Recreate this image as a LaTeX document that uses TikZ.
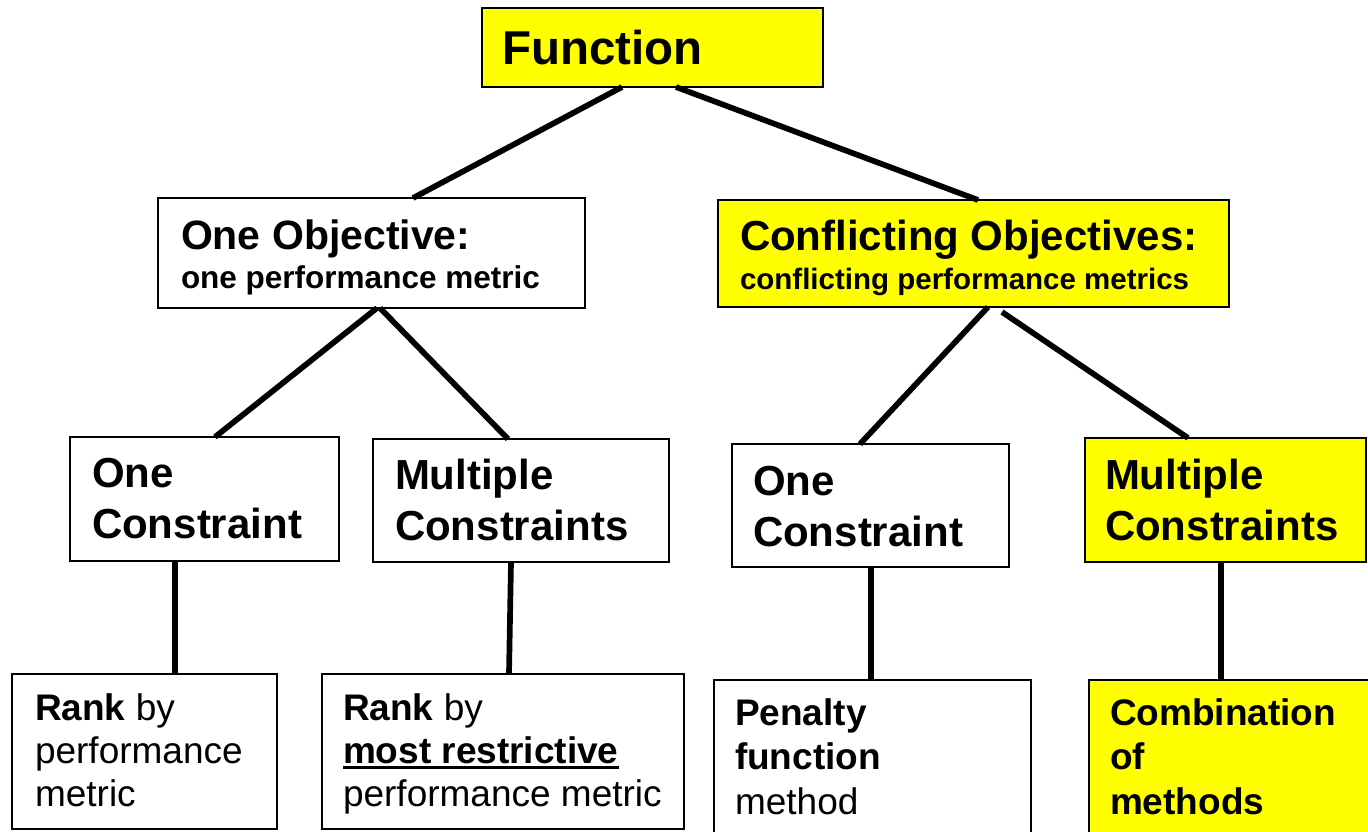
\documentclass[tikz,border=0pt]{standalone}
\usepackage{fontspec}
\setmainfont{Liberation Sans}
\definecolor{hiyellow}{RGB}{255,255,0}
\newsavebox\ulbox
\newcommand\thickul[1]{\sbox\ulbox{#1}\leavevmode\rlap{\rule[-6pt]{\wd\ulbox}{2.6pt}}\usebox\ulbox}
\newcommand\natsp{\spaceskip=0pt\relax\xspaceskip=0pt\relax}
\begin{document}
\begin{tikzpicture}[x=1pt,y=-1pt,
  tbox/.style={draw=black, line width=1.5pt, anchor=north west, inner ysep=0pt, outer sep=0pt, align=left},
  hl/.style={fill=hiyellow},
  fhead/.style={font=\fontsize{47.5pt}{54pt}\selectfont\bfseries},
  fobj/.style={font=\fontsize{41pt}{46pt}\selectfont\bfseries},
  fcon/.style={font=\fontsize{42pt}{51pt}\selectfont\bfseries},
  fleafa/.style={font=\fontsize{37pt}{43pt}\selectfont},
  fleafb/.style={font=\fontsize{37pt}{44.5pt}\selectfont},
  conn/.style={line width=5.7pt}]
\clip (0,0) rectangle (1368,831);
\fill[white] (0,0) rectangle (1368,831);

% level 1
\node[tbox, hl, fhead, inner xsep=20pt, text width=301pt, text height=56pt, text depth=23pt] (func) at (482,8)
  {\natsp Function};

% level 2
\node[tbox, fobj, inner xsep=23pt, text width=381pt, text height=51pt, text depth=59pt] (oneobj) at (158,198)
  {\natsp One Objective:\par{\fontsize{31.5pt}{39pt}\selectfont\natsp one performance metric\par}};
\node[tbox, hl, fobj, inner xsep=22pt, text width=467pt, text height=50pt, text depth=57pt] (conflict) at (718,200)
  {\natsp\fontsize{42pt}{46pt}\selectfont\natsp Conflicting Objectives:\par{\fontsize{29.5pt}{39.5pt}\selectfont\natsp conflicting performance metrics\par}};

% level 3
\node[tbox, fcon, inner xsep=22pt, text width=225pt, text height=50pt, text depth=74pt] (oc1) at (70,437)
  {\natsp One\\Constraint};
\node[tbox, fcon, inner xsep=22pt, text width=252pt, text height=50pt, text depth=73pt] (mc1) at (373,439)
  {\natsp Multiple\\Constraints};
\node[tbox, fcon, inner xsep=21pt, text width=235pt, text height=51pt, text depth=72pt] (oc2) at (732,444)
  {\natsp One\\Constraint};
\node[tbox, hl, fcon, inner xsep=20pt, text width=241pt, text height=51pt, text depth=73pt] (mc2) at (1085,438)
  {\natsp Multiple\\Constraints};

% level 4
\node[tbox, fleafa, inner xsep=23pt, text width=219pt, text height=46pt, text depth=109pt] (rank1) at (12,674)
  {\natsp\textbf{Rank} by\\performance\\metric};
\node[tbox, fleafa, inner xsep=21pt, text width=320pt, text height=46pt, text depth=109pt] (rank2) at (322,674)
  {\natsp\textbf{Rank} by\\\thickul{\textbf{most restrictive}}\\performance~metric};
\node[tbox, fleafb, inner xsep=21pt, text width=275pt, text height=45pt, text depth=125pt] (penalty) at (714,680)
  {\natsp\textbf{Penalty}\\\textbf{function}\\method};
\node[tbox, hl, fleafb, inner xsep=21pt, text width=258pt, text height=45pt, text depth=125pt] (combo) at (1089,680)
  {\natsp\bfseries Combination\\of\\methods};

% connectors
\draw[conn] ([xshift=140pt]func.south west) -- ([xshift=255pt]oneobj.north west);
\draw[conn] ([xshift=194pt]func.south west) -- ([xshift=260pt]conflict.north west);
\draw[conn] ([xshift=219pt]oneobj.south west) -- ([xshift=145pt]oc1.north west);
\draw[conn] ([xshift=222pt]oneobj.south west) -- ([xshift=135pt]mc1.north west);
\draw[conn] ([xshift=270pt]conflict.south west) -- ([xshift=128pt]oc2.north west);
\coordinate (gapstart) at ([shift={(284,5)}]conflict.south west);
\draw[conn] (gapstart) -- ([xshift=103pt]mc2.north west);
\draw[conn] ([xshift=105pt]oc1.south west) -- ([xshift=163pt]rank1.north west);
\draw[conn] ([xshift=138pt]mc1.south west) -- ([xshift=187pt]rank2.north west);
\draw[conn] ([xshift=139pt]oc2.south west) -- ([xshift=157pt]penalty.north west);
\draw[conn] ([xshift=136pt]mc2.south west) -- ([xshift=132pt]combo.north west);
\end{tikzpicture}
\end{document}
